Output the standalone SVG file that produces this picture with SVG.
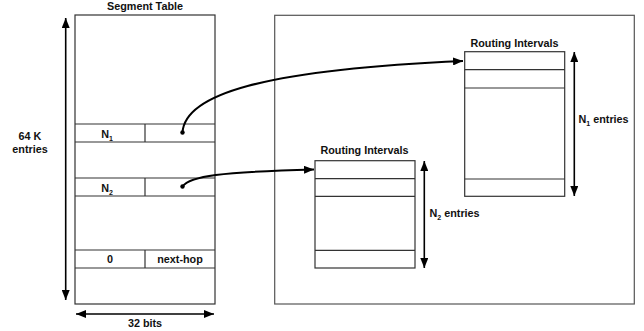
<svg xmlns="http://www.w3.org/2000/svg" width="644" height="331" viewBox="0 0 644 331">
<style>
text{font-family:"Liberation Sans",Arial,sans-serif;font-weight:bold;font-size:10.8px;fill:#111}
.box{fill:#fff;stroke:#333;stroke-width:1.2}
.ln{stroke:#333;stroke-width:1.2}
.dim{stroke:#000;stroke-width:1.6;fill:none}
.con{stroke:#000;stroke-width:2;fill:none}
.sub{font-size:7px}
</style>
<defs>
<marker id="ah" viewBox="0 0 10 8" refX="10" refY="4" markerWidth="10" markerHeight="8" markerUnits="userSpaceOnUse" orient="auto-start-reverse">
<path d="M0,0 L10,4 L0,8 Z" fill="#000"/>
</marker>
</defs>
<rect x="0" y="0" width="644" height="331" fill="#fff"/>
<g id="segment-table">
<text x="145" y="10" text-anchor="middle">Segment Table</text>
<rect class="box" x="75" y="15" width="140" height="289"/>
<line class="ln" x1="75" y1="124" x2="215" y2="124"/>
<line class="ln" x1="75" y1="142" x2="215" y2="142"/>
<line class="ln" x1="145" y1="124" x2="145" y2="142"/>
<text x="107" y="137.5" text-anchor="middle">N<tspan class="sub" dy="3">1</tspan></text>
<line class="ln" x1="75" y1="178" x2="215" y2="178"/>
<line class="ln" x1="75" y1="196" x2="215" y2="196"/>
<line class="ln" x1="145" y1="178" x2="145" y2="196"/>
<text x="107" y="191.5" text-anchor="middle">N<tspan class="sub" dy="3">2</tspan></text>
<line class="ln" x1="75" y1="250" x2="215" y2="250"/>
<line class="ln" x1="75" y1="268" x2="215" y2="268"/>
<line class="ln" x1="145" y1="250" x2="145" y2="268"/>
<text x="110" y="263" text-anchor="middle">0</text>
<text x="180" y="263" text-anchor="middle">next-hop</text>
<circle cx="182.5" cy="132.5" r="2.2" fill="#000"/>
<circle cx="182.5" cy="186.5" r="2.2" fill="#000"/>
</g>
<g id="dims">
<line class="dim" x1="65.7" y1="300" x2="65.7" y2="18" marker-end="url(#ah)" marker-start="url(#ah)"/>
<text x="30" y="140" text-anchor="middle">64 K</text>
<text x="30" y="153" text-anchor="middle">entries</text>
<line class="dim" x1="76" y1="314" x2="214" y2="314" marker-end="url(#ah)" marker-start="url(#ah)"/>
<text x="145" y="327" text-anchor="middle">32 bits</text>
</g>
<g id="memory">
<rect x="274.7" y="15.3" width="359.6" height="288.7" fill="none" stroke="#555" stroke-width="1.2"/>
</g>
<g id="routing-intervals-1">
<text x="514.5" y="47" text-anchor="middle">Routing Intervals</text>
<rect class="box" x="464.7" y="51.7" width="100" height="144.6"/>
<line class="ln" x1="464.7" y1="69.7" x2="564.7" y2="69.7"/>
<line class="ln" x1="464.7" y1="88" x2="564.7" y2="88"/>
<line class="ln" x1="464.7" y1="179" x2="564.7" y2="179"/>
<line class="dim" x1="574.3" y1="52" x2="574.3" y2="196" marker-end="url(#ah)" marker-start="url(#ah)"/>
<text x="578.5" y="123">N<tspan class="sub" dy="3">1</tspan><tspan dy="-3"> entries</tspan></text>
</g>
<g id="routing-intervals-2">
<text x="364.5" y="154" text-anchor="middle">Routing Intervals</text>
<rect class="box" x="315" y="160.7" width="100" height="107.3"/>
<line class="ln" x1="315" y1="178.7" x2="415" y2="178.7"/>
<line class="ln" x1="315" y1="196.3" x2="415" y2="196.3"/>
<line class="ln" x1="315" y1="250.3" x2="415" y2="250.3"/>
<line class="dim" x1="424.3" y1="161" x2="424.3" y2="268" marker-end="url(#ah)" marker-start="url(#ah)"/>
<text x="429.5" y="217">N<tspan class="sub" dy="3">2</tspan><tspan dy="-3"> entries</tspan></text>
</g>
<g id="connectors">
<path class="con" d="M182.5,132.5 C185,95 260,70 463,61" marker-end="url(#ah)"/>
<path class="con" d="M182.5,186.5 C190,176 220,172 314,169.5" marker-end="url(#ah)"/>
</g>
</svg>
